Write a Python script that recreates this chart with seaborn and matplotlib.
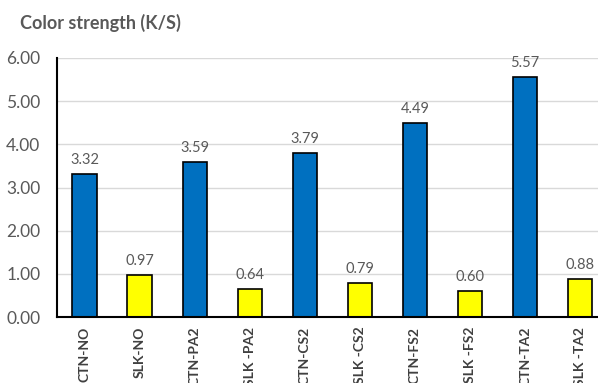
import matplotlib
matplotlib.use("Agg")
import matplotlib.pyplot as plt
import seaborn as sns

categories = ["CTN-NO", "SLK-NO", "CTN-PA2", "SLK -PA2", "CTN-CS2",
              "SLK -CS2", "CTN-FS2", "SLK -FS2", "CTN-TA2", "SLK -TA2"]
values = [3.32, 0.97, 3.59, 0.64, 3.79, 0.79, 4.49, 0.60, 5.57, 0.88]
bar_colors = ["#0070C0", "#FFFF00"] * 5
y_ticks = [0, 1, 2, 3, 4, 5, 6]

sns.set_theme(style="white")
plt.rcParams["font.family"] = ["Lato", "DejaVu Sans"]

W, H = 598, 383
fig = plt.figure(figsize=(W / 100, H / 100), dpi=100)
ax = fig.add_axes([57 / W, 1 - 317 / H, 550.6 / W, 259 / H])

sns.barplot(x=categories, y=values, hue=categories, palette=bar_colors,
            legend=False, width=0.44, edgecolor="black", linewidth=1.2,
            saturation=1, ax=ax, zorder=3)

ax.set_ylim(0, 6)
ax.set_xlim(-0.5, len(categories) - 0.5)
ax.set_yticks(y_ticks)
ax.set_yticklabels([f"{t:.2f}" for t in y_ticks])
ax.yaxis.grid(True, color="#d9d9d9", linewidth=1, zorder=0)
ax.set_axisbelow(True)

for side in ["top", "right"]:
    ax.spines[side].set_visible(False)
for side in ["left", "bottom"]:
    ax.spines[side].set_color("black")
    ax.spines[side].set_linewidth(1.5)
ax.spines["bottom"].set_zorder(4)

ax.tick_params(axis="y", length=0, pad=12, labelsize=12.5, labelcolor="#595959")
ax.tick_params(axis="x", length=0, pad=7)
for lbl in ax.get_xticklabels():
    lbl.set_rotation(90)
    lbl.set_fontweight("bold")
    lbl.set_fontsize(10)
    lbl.set_color("#404040")
    lbl.set_va("top")
    lbl.set_ha("center")

for cont in ax.containers:
    ax.bar_label(cont, fmt="%.2f", padding=5, fontsize=10.5, color="#595959")

ax.set_xlabel("")
ax.set_ylabel("")

fig.text(20 / W, 1 - 23 / H, "Color strength (K/S)", fontsize=13,
         fontweight="bold", color="#595959", va="center", ha="left")

fig.savefig("out.png", dpi=100)
